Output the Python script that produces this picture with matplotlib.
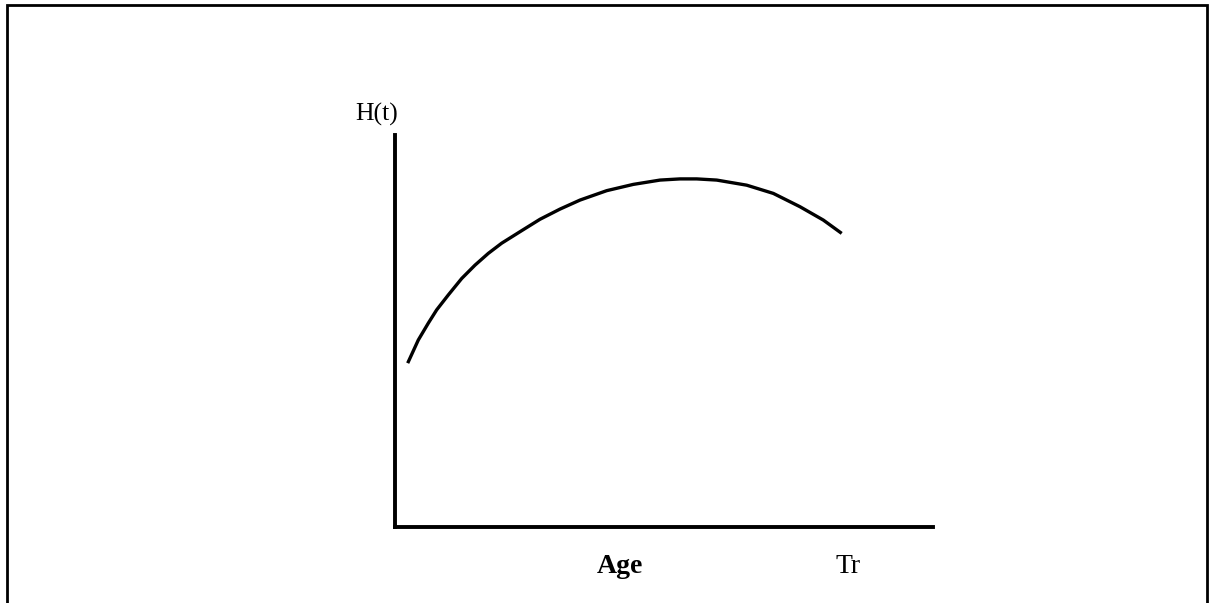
import matplotlib.pyplot as plt
import matplotlib.patches as mpatches

# Curve (age and H(t) in arbitrary units, axes run 0..10)
age = [0.236, 0.433, 0.619, 0.775, 0.991, 1.240, 1.487, 1.734, 1.983, 2.355,
       2.695, 3.067, 3.439, 3.935, 4.429, 4.926, 5.297, 5.608, 5.980, 6.537,
       7.032, 7.528, 7.961, 8.303]
h_t = [4.18, 4.77, 5.20, 5.54, 5.92, 6.34, 6.68, 6.98, 7.24, 7.56,
       7.85, 8.11, 8.34, 8.58, 8.74, 8.85, 8.88, 8.88, 8.85, 8.72,
       8.51, 8.17, 7.83, 7.49]

y_label = "H(t)"
x_label = "Age"
end_label = "Tr"

W, H = 1209, 603
fig = plt.figure(figsize=(W / 100, H / 100), dpi=100)
plt.rcParams['font.family'] = ['Liberation Serif', 'DejaVu Serif']

# Axes placed in pixel terms
left, bottom, right, top = 395, 527, 933, 135
ax = fig.add_axes([left / W, 1 - bottom / H, (right - left) / W, (bottom - top) / H])
ax.plot(age, h_t, color='black', linewidth=2.4, solid_capstyle='butt',
        solid_joinstyle='round')
ax.set_xlim(0, 10)
ax.set_ylim(0, 10)
ax.set_xticks([])
ax.set_yticks([])
for side in ['top', 'right']:
    ax.spines[side].set_visible(False)
for side in ['left', 'bottom']:
    ax.spines[side].set_linewidth(2.8)
    ax.spines[side].set_capstyle('projecting')

# Labels
fig.text(376.5 / W, 1 - 121 / H, y_label, ha='center', va='baseline', fontsize=18.5)
fig.text(620 / W, 1 - 573 / H, x_label, ha='center', va='baseline', fontsize=20, fontweight='bold')
fig.text(848.5 / W, 1 - 573 / H, end_label, ha='center', va='baseline', fontsize=20)

# Frame around the whole picture
frame = mpatches.Rectangle((7 / W, -0.02), 1200 / W, 1.02 - 5 / H, transform=fig.transFigure,
                           fill=False, edgecolor='black', linewidth=2.0, clip_on=False)
fig.patches.append(frame)

fig.savefig('out.png', dpi=100)
